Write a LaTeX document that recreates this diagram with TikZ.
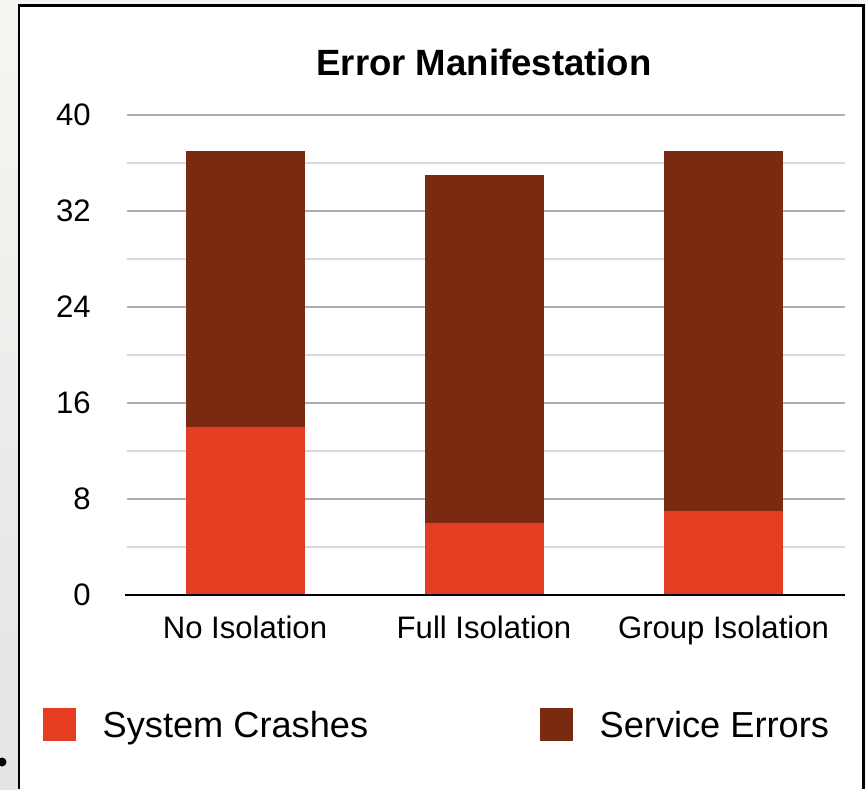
\documentclass[tikz,border=0pt]{standalone}
\usepackage{fontspec}
\setmainfont{Liberation Sans}
\usetikzlibrary{positioning}
\definecolor{crashred}{RGB}{228,61,34}
\definecolor{errbrown}{RGB}{122,42,16}
\definecolor{paper}{RGB}{247,245,241}
\definecolor{strip}{RGB}{228,228,228}
\definecolor{majorgrid}{RGB}{175,175,175}
\definecolor{minorgrid}{RGB}{218,218,218}

\begin{document}
\begin{tikzpicture}[
        x = 0.02cm, y = -0.02cm, % one unit is one pixel of the screenshot
        majorline/.style = {draw=majorgrid, line width=1.1pt},
        minorline/.style = {draw=minorgrid, line width=1.1pt},
        ticklabel/.style = {anchor=east, inner sep=0pt, font=\fontsize{17.7}{20}\selectfont},
        catlabel/.style = {anchor=base, inner sep=0pt, font=\fontsize{17.7}{20}\selectfont},
        legkey/.style = {minimum size=0.66cm, inner sep=0pt},
        legtext/.style = {inner sep=0pt, text depth=0pt, font=\fontsize{20.6}{24}\selectfont},
        charttitle/.style = {anchor=base, inner sep=0pt, font=\bfseries\fontsize{20.8}{24}\selectfont}
        ]

  \useasboundingbox (0,0) rectangle (866,789);
  \fill[paper] (0,0) rectangle (866,789);
  \shade[top color=paper, bottom color=strip] (0,5) rectangle (18,789);
  \fill[white] (19,5) rectangle (863,789);
  \draw[line width=1.7pt] (19,789) -- (19,5) -- (863,5) -- (863,789);
  \fill (2,762) circle (4.5);

  \node[charttitle] (title) at (484,75) {Error Manifestation};

  % grid and value axis
  \foreach \v in {4,12,20,28,36}
    \draw[minorline] (127,{595-12*\v}) -- (845,{595-12*\v});
  \foreach \v in {8,16,24,32,40}
    \draw[majorline] (127,{595-12*\v}) -- (845,{595-12*\v});
  \foreach \v in {0,8,16,24,32,40}
    \node[ticklabel] (tick\v) at (91,{595-12*\v}) {\v};

  % stacked bars: crashes at the bottom, service errors on top
  \foreach \x/\c/\e/\name/\lbl in {245/14/23/no/No Isolation,
                                   484/6/29/full/Full Isolation,
                                   723.5/7/30/group/Group Isolation} {
    \fill[crashred] ({\x-59.5},595) rectangle ({\x+59.5},{595-12*\c});
    \fill[errbrown] ({\x-59.5},{595-12*\c}) rectangle ({\x+59.5},{595-12*(\c+\e)});
    \node[catlabel] (\name) at (\x,638) {\lbl};
  }
  \draw[line width=1.2pt] (125,595) -- (845,595);

  % legend
  \node[legkey, fill=crashred] (keycrash) at (59.5,724.5) {};
  \node[legtext, right=0.52cm of keycrash] (textcrash) {System Crashes};
  \node[legkey, fill=errbrown] (keyerror) at (556.5,724.5) {};
  \node[legtext, right=0.52cm of keyerror] (texterror) {Service Errors};

\end{tikzpicture}
\end{document}
